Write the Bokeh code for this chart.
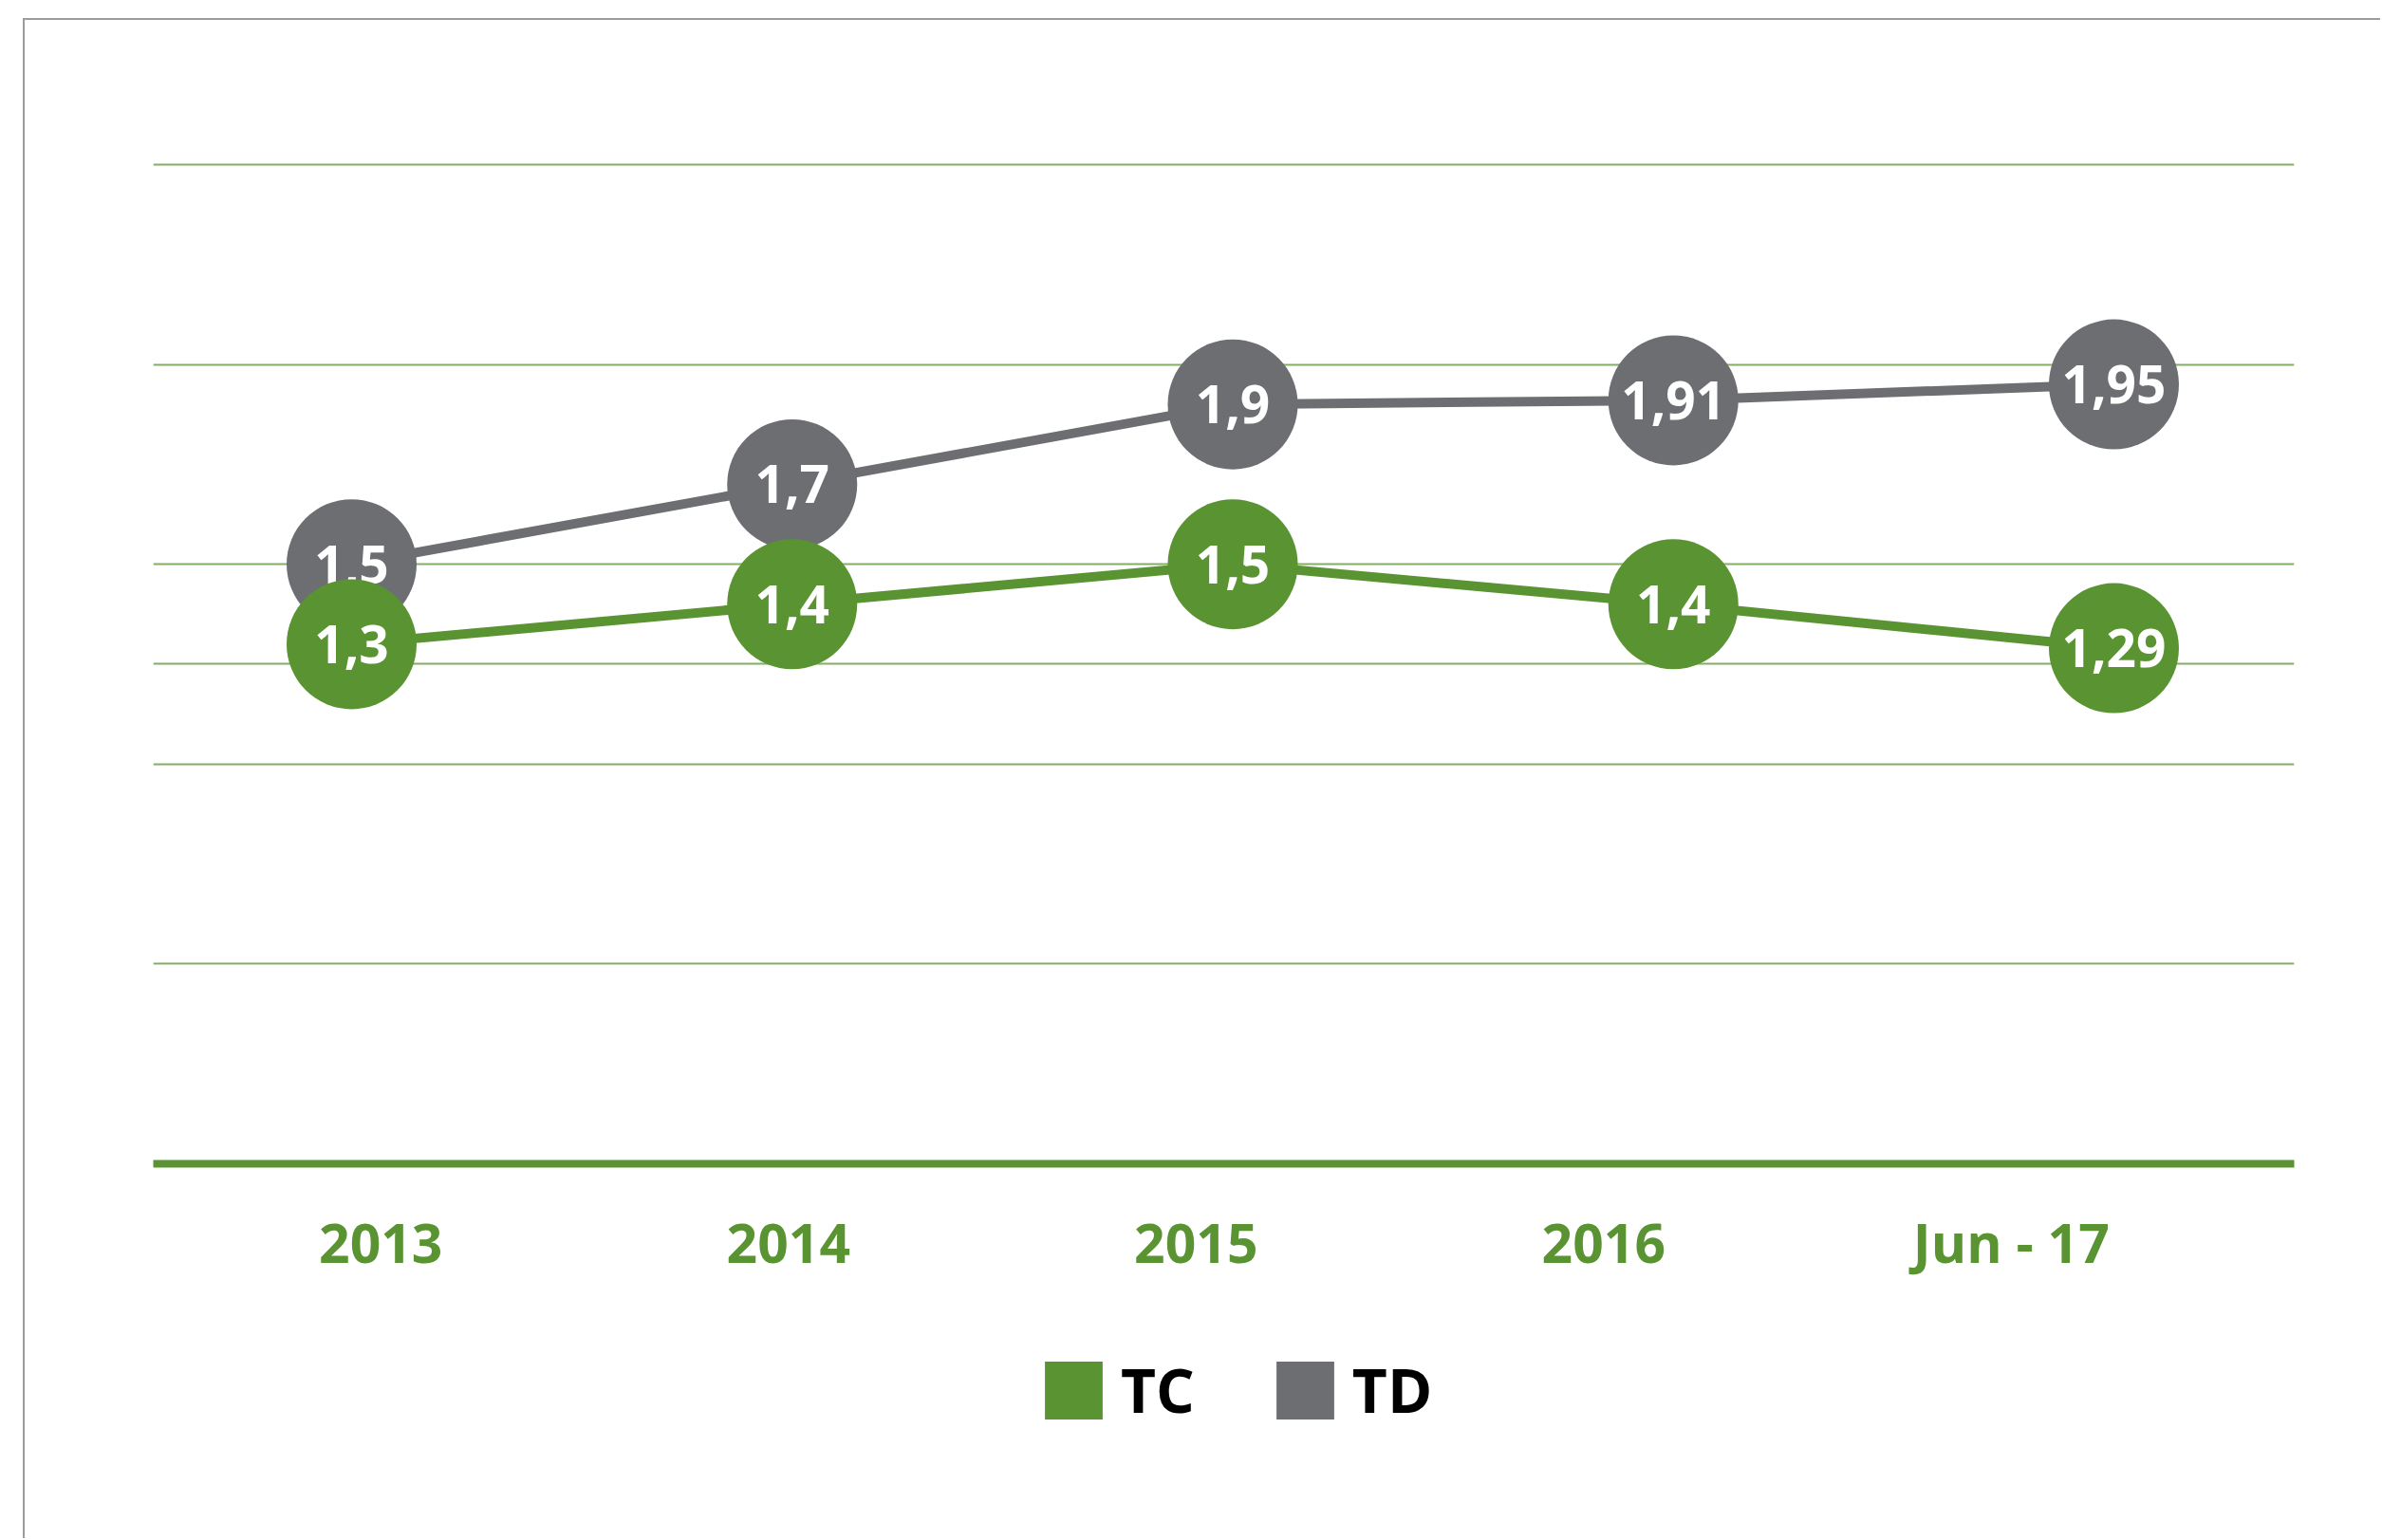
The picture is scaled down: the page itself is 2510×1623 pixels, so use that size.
from bokeh.plotting import figure
from bokeh.layouts import column
from bokeh.models import Range1d, LinearAxis, FixedTicker, Grid, Legend, LegendItem, ColumnDataSource
from bokeh.embed import file_html
from bokeh.resources import INLINE
from bokeh.core.properties import value

# ---- data ----
years = ["2013", "2014", "2015", "2016", "Jun - 17"]
tc = [1.3, 1.4, 1.5, 1.4, 1.29]
td = [1.5, 1.7, 1.9, 1.91, 1.95]
grid_values = [0.5, 1.0, 1.25, 1.5, 2.0, 2.5]
series_names = ["TC", "TD"]

GREEN = "#5a9332"
GRAY = "#6d6e72"
FONT = "Open Sans"
NAN = float("nan")
W = 2482


def fmt(v):
    return f"{v:g}".replace(".", ",")


x_idx = list(range(len(years)))

p = figure(width=W, height=1359, output_backend="svg", toolbar_location=None,
           x_range=Range1d(-0.4502, 4.4093), y_range=Range1d(0, 2.768),
           x_axis_location=None, y_axis_location=None,
           min_border_left=135, min_border_right=91, min_border_top=39, min_border_bottom=154,
           outline_line_color=None, background_fill_color="white", border_fill_color="white")
p.grid.visible = False

grid = Grid(dimension=1, ticker=FixedTicker(ticks=grid_values),
            grid_line_color=GREEN, grid_line_width=1.8, grid_line_alpha=0.75)
p.add_layout(grid)

# label axis
p.extra_x_ranges = {"lab": Range1d(-0.5583, 4.6943)}
ax = LinearAxis(x_range_name="lab", ticker=FixedTicker(ticks=x_idx),
                major_label_overrides={i: y for i, y in zip(x_idx, years)})
ax.axis_line_color = GREEN
ax.axis_line_width = 8
ax.major_tick_line_color = None
ax.minor_tick_line_color = None
ax.major_tick_out = 0
ax.major_tick_in = 0
ax.minor_tick_out = 0
ax.major_label_text_font = FONT
ax.major_label_text_font_size = "57px"
ax.major_label_text_font_style = "bold"
ax.major_label_text_color = GREEN
ax.major_label_standoff = 43
p.add_layout(ax, "below")

src_tc = ColumnDataSource(dict(x=x_idx, y=tc, t=[fmt(v) for v in tc]))
src_td = ColumnDataSource(dict(x=x_idx, y=td, t=[fmt(v) for v in td]))

for src, col in ((src_td, GRAY), (src_tc, GREEN)):
    p.line("x", "y", source=src, line_color=col, line_width=10)
for src, col in ((src_td, GRAY), (src_tc, GREEN)):
    p.scatter("x", "y", source=src, size=137, fill_color=col, line_color=None)
    p.text("x", "y", text="t", source=src, text_font=value(FONT), text_font_size="55px",
           text_font_style="bold", text_color="white", text_align="center",
           text_baseline="middle")

# legend strip below the chart
p2 = figure(width=W, height=241, output_backend="svg", toolbar_location=None,
            x_range=Range1d(0, 1), y_range=Range1d(0, 1),
            x_axis_location=None, y_axis_location=None,
            min_border_left=0, min_border_right=0, min_border_top=0, min_border_bottom=0,
            outline_line_color=None, background_fill_color="white", border_fill_color="white")
p2.grid.visible = False
r_tc = p2.quad(left=[NAN], right=[NAN], top=[NAN], bottom=[NAN], fill_color=GREEN, line_color=None)
r_td = p2.quad(left=[NAN], right=[NAN], top=[NAN], bottom=[NAN], fill_color=GRAY, line_color=None)
legend = Legend(items=[LegendItem(label=series_names[0], renderers=[r_tc]),
                       LegendItem(label=series_names[1], renderers=[r_td])],
                orientation="horizontal", location=(932, 113),
                glyph_width=76, glyph_height=76, label_standoff=12, spacing=78,
                label_text_font=FONT, label_text_font_size="64px",
                label_text_font_style="bold", label_text_color="black",
                border_line_color=None, background_fill_alpha=0, padding=0, margin=0)
p2.add_layout(legend, "center")

layout = column(p, p2, spacing=0, margin=(19, 0, 0, 24),
                styles={"border-top": "2px solid #9c9c9c", "border-left": "2px solid #9c9c9c"})

open("out.html", "w").write(file_html(layout, INLINE))
